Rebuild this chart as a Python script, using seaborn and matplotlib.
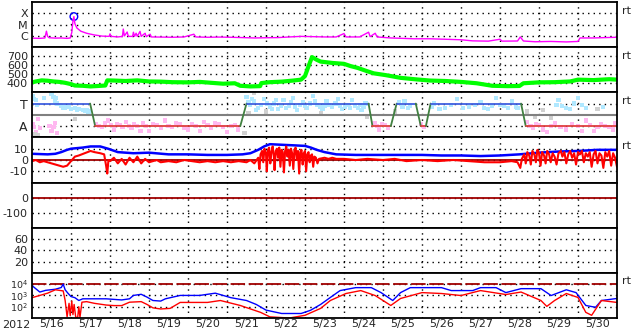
import numpy as np
import pandas as pd
import matplotlib
matplotlib.use("Agg")
import matplotlib.pyplot as plt
from matplotlib.ticker import NullLocator
import seaborn as sns

# ---------------- data (time in days since 2012-05-16 00:00 UT) ----------------
day_labels = ["5/16", "5/17", "5/18", "5/19", "5/20", "5/21", "5/22", "5/23",
              "5/24", "5/25", "5/26", "5/27", "5/28", "5/29", "5/30"]
year_label = "2012"

# GOES X-ray flux (W/m^2)
xray = [(0.00, 6.3e-7), (0.20, 6.0e-7), (0.33, 6.5e-7), (0.37, 2.6e-6), (0.40, 9e-7),
        (0.44, 6.8e-7), (0.60, 6.3e-7), (0.75, 6.5e-7), (0.90, 6.0e-7), (0.98, 6.5e-7),
        (1.02, 2e-6), (1.05, 2e-5), (1.074, 5.1e-5), (1.10, 1.2e-5), (1.15, 5e-6),
        (1.25, 2.6e-6), (1.40, 1.7e-6), (1.60, 1.2e-6), (1.80, 9.5e-7), (1.98, 9e-7),
        (2.00, 1.5e-6), (2.03, 9e-7), (2.20, 8e-7), (2.32, 9e-7), (2.34, 4e-6),
        (2.37, 1e-6), (2.44, 2.2e-6), (2.47, 9e-7), (2.58, 9e-7), (2.60, 2.1e-6),
        (2.63, 9e-7), (2.67, 1.7e-6), (2.70, 9e-7), (2.77, 2.5e-6), (2.80, 9e-7),
        (2.90, 1.7e-6), (2.93, 8.5e-7), (3.03, 1.4e-6), (3.06, 8e-7), (3.30, 7.8e-7),
        (3.60, 7.5e-7), (3.90, 8e-7), (4.15, 1.4e-6), (4.20, 8e-7), (4.50, 7.5e-7),
        (4.80, 7.8e-7), (5.10, 7.5e-7), (5.40, 7e-7), (5.70, 6.5e-7), (6.00, 6.8e-7),
        (6.30, 7e-7), (6.60, 8e-7), (6.90, 9e-7), (7.20, 8.5e-7), (7.50, 8e-7),
        (7.80, 8e-7), (8.00, 1.6e-6), (8.05, 8e-7), (8.40, 8e-7), (8.63, 2.1e-6),
        (8.67, 8.5e-7), (8.80, 1.7e-6), (8.85, 8e-7), (9.20, 6.5e-7), (9.50, 6e-7),
        (9.80, 5.5e-7), (10.20, 5.5e-7), (10.60, 5e-7), (11.00, 4.5e-7), (11.30, 3.6e-7),
        (11.70, 3.4e-7), (12.00, 5e-7), (12.05, 3.4e-7), (12.45, 3.5e-7), (12.52, 8e-7),
        (12.60, 3.5e-7), (12.90, 3.0e-7), (13.30, 3.2e-7), (13.70, 2.9e-7), (14.00, 3.2e-7),
        (14.05, 6.5e-7), (14.40, 6.5e-7), (14.70, 7e-7), (15.00, 7.5e-7)]
flare_peak = [(1.074, 5.1e-5)]

# solar wind speed (km/s)
wind = [(0.0, 410), (0.1, 420), (0.25, 432), (0.4, 428), (0.55, 420), (0.7, 415),
        (0.85, 405), (1.0, 390), (1.1, 375), (1.3, 372), (1.5, 365), (1.7, 370),
        (1.88, 375), (1.93, 432), (2.1, 430), (2.4, 425), (2.7, 432), (3.0, 420),
        (3.3, 418), (3.6, 412), (4.0, 410), (4.3, 415), (4.6, 405), (4.9, 395),
        (5.2, 400), (5.34, 372), (5.6, 365), (5.85, 368), (5.88, 402), (6.1, 412),
        (6.4, 418), (6.7, 430), (6.9, 440), (7.0, 480), (7.1, 600), (7.18, 690),
        (7.3, 660), (7.4, 640), (7.7, 625), (8.0, 615), (8.17, 590), (8.35, 570),
        (8.55, 540), (8.76, 510), (9.07, 490), (9.45, 460), (9.8, 445), (10.2, 430),
        (10.6, 425), (11.0, 415), (11.4, 400), (11.8, 372), (12.2, 368), (12.5, 370),
        (12.6, 400), (13.0, 410), (13.4, 412), (13.8, 420), (14.0, 440), (14.4, 435),
        (14.8, 445), (15.0, 440)]

# IMF sector: 3 = T (toward), 1 = A (away)
sector = [(0.0, 3), (1.49, 3), (1.62, 1), (5.34, 1), (5.50, 3), (8.63, 3), (8.73, 1),
          (9.20, 1), (9.35, 3), (9.84, 3), (9.97, 1), (10.10, 1), (10.22, 3),
          (12.54, 3), (12.66, 1), (15.0, 1)]
sector_mid = 2
phi_toward = [(0.03, 3.7), (0.06, 3.4), (0.10, 3.3), (0.12, 2.9), (0.30, 3.5), (0.50, 3.85),
              (0.55, 3.6), (0.58, 3.2), (0.62, 3.5), (0.65, 3.0), (0.75, 2.8), (0.80, 2.6),
              (0.85, 2.65), (0.95, 2.7), (1.00, 2.55), (1.10, 2.6), (1.15, 2.45),
              (1.20, 2.5), (1.30, 2.45), (1.35, 2.35), (1.40, 2.4), (1.45, 2.3),
              (5.50, 3.6), (5.55, 3.1), (5.60, 2.9), (5.65, 3.4), (5.70, 3.2), (5.75, 2.4),
              (5.80, 2.6), (5.88, 2.9), (5.95, 3.4), (6.02, 3.0), (6.10, 2.7), (6.15, 2.5),
              (6.20, 3.0), (6.25, 3.3), (6.30, 2.5), (6.38, 2.8), (6.45, 3.3), (6.52, 2.6),
              (6.60, 2.8), (6.65, 3.1), (6.70, 3.5), (6.75, 2.7), (6.80, 2.4), (6.88, 2.9),
              (6.95, 3.1), (7.00, 2.8), (7.05, 2.6), (7.12, 3.0), (7.20, 3.7), (7.25, 3.2),
              (7.30, 2.9), (7.38, 2.7), (7.45, 2.5), (7.50, 2.8), (7.55, 3.2), (7.62, 2.9),
              (7.70, 2.7), (7.78, 3.0), (7.85, 3.4), (7.90, 2.8), (7.95, 2.5), (8.02, 2.7),
              (8.10, 2.9), (8.15, 2.6), (8.20, 3.3), (8.28, 2.8), (8.35, 2.6), (8.40, 2.9),
              (8.45, 2.4), (8.50, 2.7), (8.55, 3.0), (9.40, 3.1), (9.50, 2.7), (9.55, 3.2),
              (9.65, 2.6), (9.70, 2.8), (10.25, 2.7), (10.30, 3.0), (10.45, 2.5),
              (10.60, 2.6), (10.75, 2.9), (10.90, 3.4), (11.05, 2.6), (11.20, 2.7),
              (11.35, 2.9), (11.50, 3.1), (11.60, 2.6), (11.70, 2.5), (11.80, 2.8),
              (11.90, 3.5), (12.00, 2.9), (12.10, 2.8), (12.20, 2.6), (12.30, 3.2),
              (12.40, 2.7), (12.45, 2.6), (13.45, 2.9), (13.50, 3.3), (13.60, 2.8),
              (13.70, 2.6), (13.80, 2.5), (13.90, 3.0), (14.00, 3.5), (14.10, 2.9),
              (14.20, 2.6), (14.65, 2.7)]
phi_away = [(0.03, 1.2), (0.06, 0.9), (0.10, 0.5), (0.15, 1.6), (0.20, 0.8), (0.45, 1.0),
            (0.50, 0.6), (0.55, 0.9), (0.60, 1.3), (0.65, 0.4), (1.65, 1.2), (1.72, 1.0),
            (1.80, 0.9), (1.88, 1.3), (1.95, 1.5), (2.02, 1.1), (2.10, 0.7), (2.18, 1.2),
            (2.25, 1.1), (2.32, 0.9), (2.40, 1.4), (2.48, 1.0), (2.55, 0.8), (2.62, 1.2),
            (2.70, 1.0), (2.78, 0.6), (2.85, 1.3), (2.92, 1.0), (3.00, 0.6), (3.10, 1.2),
            (3.20, 1.1), (3.30, 0.8), (3.40, 1.5), (3.50, 1.0), (3.60, 0.9), (3.70, 1.3),
            (3.80, 1.2), (3.90, 0.8), (4.00, 0.7), (4.10, 1.2), (4.20, 1.0), (4.30, 0.6),
            (4.40, 1.4), (4.50, 1.1), (4.60, 0.8), (4.70, 1.3), (4.80, 1.2), (4.90, 0.9),
            (5.00, 0.5), (5.10, 1.0), (5.20, 1.1), (5.28, 0.7), (8.78, 1.3), (8.85, 1.0),
            (8.90, 0.7), (8.98, 1.2), (9.05, 1.1), (9.12, 0.8), (9.98, 1.2), (10.05, 0.9),
            (12.70, 1.4), (12.78, 1.0), (12.85, 0.8), (12.92, 1.2), (13.00, 1.1),
            (13.10, 0.7), (13.20, 0.5), (13.30, 1.0), (13.40, 1.3), (13.55, 0.9),
            (13.70, 0.7), (13.85, 1.2), (14.00, 1.0), (14.10, 0.6), (14.20, 1.5),
            (14.30, 1.1), (14.40, 0.6), (14.50, 0.9), (14.60, 1.2), (14.70, 1.0),
            (14.80, 0.9), (14.90, 0.7), (14.95, 1.3)]
phi_other = [(0.08, 0.3), (0.15, 0.2), (1.10, 1.6), (5.45, 0.4), (5.55, 2.2), (5.70, 3.9),
             (6.00, 2.3), (7.40, 2.2), (8.60, 1.8), (9.30, 2.3), (12.70, 2.3), (12.90, 1.8),
             (13.10, 2.4), (13.30, 1.7), (14.50, 2.5)]

# IMF |B| and Bz (nT)
bt = [(0.0, 5.5), (0.4, 5.0), (0.6, 5.5), (0.75, 7.0), (0.9, 9.0), (1.0, 10.0), (1.3, 11.0),
      (1.5, 12.0), (1.75, 12.0), (1.95, 10.0), (2.2, 7.0), (2.6, 6.0), (3.0, 6.5),
      (3.5, 5.0), (4.0, 5.0), (4.5, 4.5), (5.0, 4.5), (5.4, 5.0), (5.6, 6.0), (5.8, 9.0),
      (5.95, 12.0), (6.1, 14.0), (6.4, 13.5), (6.7, 13.0), (7.0, 12.5), (7.15, 11.0),
      (7.3, 9.0), (7.5, 7.0), (7.8, 5.0), (8.3, 4.5), (9.0, 4.5), (9.5, 4.5), (10.0, 4.5),
      (10.5, 4.0), (11.0, 4.0), (11.5, 3.5), (12.0, 4.0), (12.5, 5.0), (13.0, 6.5),
      (13.5, 7.5), (14.0, 8.0), (14.5, 9.0), (15.0, 9.0)]
bz = [(0.0, -1), (0.1, 0), (0.2, -2), (0.3, -1), (0.4, -2), (0.5, -3), (0.6, -4), (0.7, -5),
      (0.8, -6), (0.9, -5), (0.95, -3), (1.1, 3), (1.2, 4), (1.35, 6), (1.5, 8), (1.6, 7),
      (1.75, 6), (1.85, 5), (1.9, -5), (1.93, -12), (1.96, 0), (2.0, -1), (2.1, 2),
      (2.2, -3), (2.3, 1), (2.4, -4), (2.5, 2), (2.6, -2), (2.7, 3), (2.8, -3), (2.9, 1),
      (3.0, -2), (3.1, -1), (3.2, 0), (3.3, -2), (3.5, -1), (3.7, -2), (3.9, 0), (4.1, -1),
      (4.3, -2), (4.5, -1), (4.7, -2), (4.9, -1), (5.1, -2), (5.3, -1), (5.5, -2), (5.6, 0),
      (5.7, -3), (5.80, 2), (5.83, -8), (5.86, 5), (5.90, 8), (5.93, -2), (5.96, 10),
      (6.00, 6), (6.02, -10), (6.05, 9), (6.08, 11), (6.11, -3), (6.14, 7), (6.17, 12),
      (6.20, 4), (6.22, -9), (6.25, 8), (6.28, 10), (6.31, 2), (6.34, 11), (6.37, -6),
      (6.40, 9), (6.43, 7), (6.46, -11), (6.49, 8), (6.52, 12), (6.55, 3), (6.58, 9),
      (6.61, -5), (6.64, 10), (6.67, 6), (6.70, -8), (6.73, 9), (6.76, 11), (6.79, 0),
      (6.82, 8), (6.85, -12), (6.88, 7), (6.91, 9), (6.94, -4), (6.97, 6), (7.00, 8),
      (7.03, -10), (7.06, 5), (7.09, 7), (7.12, -2), (7.15, 4), (7.18, 5), (7.21, -6),
      (7.24, 3), (7.28, 2), (7.32, -3), (7.36, 1), (7.5, 2), (7.6, 1), (7.7, 2), (7.8, 1),
      (8.0, 1), (8.3, 0), (8.6, 1), (9.0, 0), (9.3, 1), (9.6, -1), (10.0, 0),
      (10.4, -1), (10.8, 0), (11.2, -1), (11.6, -2), (12.0, -2), (12.3, -1), (12.45, -2),
      (12.52, -7), (12.56, 1), (12.62, 5), (12.66, -3), (12.70, 7), (12.75, 4), (12.79, -4),
      (12.83, 8), (12.88, 5), (12.92, -2), (12.96, 9), (13.00, 6), (13.04, -5), (13.08, 7),
      (13.13, 4), (13.17, -3), (13.21, 8), (13.26, 5), (13.30, -2), (13.35, 6), (13.40, 3),
      (13.45, -4), (13.50, 6), (13.56, 8), (13.60, 3), (13.65, 7), (13.70, -3), (13.75, 5),
      (13.80, 8), (13.85, 2), (13.90, 6), (13.95, -4), (14.00, 7), (14.05, 5), (14.10, 8),
      (14.15, -2), (14.20, 6), (14.25, 3), (14.30, 7), (14.35, -6), (14.40, 5), (14.45, 8),
      (14.50, -3), (14.55, 6), (14.60, 4), (14.65, -7), (14.70, 7), (14.75, 3), (14.80, 8),
      (14.85, -5), (14.90, 6), (14.95, 2), (15.0, -6)]
dst_zero = [0]

# electron flux (log10)
e_low = [(0.0, 3.87), (0.2, 3.3), (0.35, 3.45), (0.6, 3.55), (0.75, 3.7), (0.8, 4.0),
         (0.85, 3.5), (0.92, 3.2), (1.0, 2.9), (1.1, 2.8), (1.2, 2.55), (1.3, 2.7),
         (1.6, 2.7), (1.9, 2.7), (2.1, 2.65), (2.3, 2.6), (2.5, 2.7), (2.6, 3.0), (2.8, 3.1),
         (2.95, 2.85), (3.1, 2.55), (3.3, 2.5), (3.42, 2.7), (3.8, 3.0), (4.3, 3.0),
         (4.7, 3.2), (5.1, 2.8), (5.5, 2.55), (5.75, 2.2), (6.0, 1.7), (6.4, 1.4),
         (6.9, 1.4), (7.14, 1.68), (7.4, 2.2), (7.65, 2.82), (7.9, 3.43), (8.3, 3.69),
         (8.7, 3.69), (8.95, 3.25), (9.25, 2.55), (9.45, 3.25), (9.7, 3.69), (10.5, 3.69),
         (10.75, 3.43), (11.3, 3.43), (11.5, 3.69), (11.9, 3.69), (12.15, 3.25),
         (12.54, 3.6), (13.05, 3.6), (13.31, 2.99), (13.7, 3.5), (13.95, 3.25),
         (14.2, 2.11), (14.45, 1.95), (14.6, 2.55), (15.0, 2.73)]
e_high = [(0.0, 2.8), (0.1, 2.9), (0.4, 3.2), (0.6, 3.5), (0.8, 3.4), (0.85, 2.55),
          (0.9, 1.1), (0.95, 2.3), (0.98, 1.2), (1.02, 2.5), (1.05, 1.3), (1.08, 2.2),
          (1.12, 1.1), (1.17, 1.0), (1.2, 2.0), (1.23, 1.05), (1.28, 2.4), (1.4, 2.45),
          (1.6, 2.3), (1.9, 2.15), (2.1, 2.1), (2.3, 2.1), (2.5, 2.4), (2.8, 2.45),
          (2.95, 2.2), (3.1, 1.9), (3.3, 1.8), (3.54, 1.85), (3.8, 2.38), (4.5, 2.38),
          (4.83, 2.55), (5.34, 2.11), (5.86, 1.5), (6.1, 1.1), (6.6, 1.0), (7.0, 1.24),
          (7.4, 1.85), (7.65, 2.55), (8.05, 3.17), (8.43, 3.43), (8.8, 2.99), (9.2, 2.11),
          (9.45, 2.73), (10.0, 3.25), (10.5, 3.17), (11.0, 2.99), (11.5, 3.43),
          (12.15, 3.08), (12.54, 3.3), (13.05, 2.55), (13.2, 2.03), (13.4, 2.55),
          (13.7, 3.17), (14.0, 2.82), (14.2, 1.5), (14.35, 1.24), (14.6, 2.55), (15.0, 2.38)]
e_alert = [1e4]

# ---------------- figure ----------------
sns.set_style("white")
plt.rcParams['font.family'] = ['DejaVu Sans']
plt.rcParams['mathtext.fontset'] = 'dejavusans'

W, H = 633, 334
fig = plt.figure(figsize=(W / 100, H / 100), dpi=100)
L, R, T0, B0 = 32, 617, 2, 318
n = 7
ph = (B0 - T0) / n
axes = []
for i in range(n):
    top = T0 + i * ph
    ax = fig.add_axes([L / W, 1 - (top + ph) / H, (R - L) / W, ph / H])
    axes.append(ax)

FS = 8
dot = (0, (1, 3))


def frame(ax, yticks, ylabels, fs=FS):
    ax.set_xlim(0, 15)
    ax.set_xticks(np.arange(1, 15))
    ax.set_yticks(yticks)
    ax.set_yticklabels(ylabels, fontsize=fs)
    ax.yaxis.set_minor_locator(NullLocator())
    ax.grid(True, which='major', color='black', linestyle=dot, linewidth=1.0)
    ax.tick_params(axis='both', which='both', length=0, pad=3)
    ax.tick_params(axis='x', labelbottom=False)
    for s in ax.spines.values():
        s.set_color('black')
        s.set_linewidth(1.3)
    ax.set_xlabel('')
    ax.set_ylabel('')
    ax.set_facecolor('white')


def df(pairs, cols=("t", "v")):
    return pd.DataFrame(pairs, columns=list(cols))


# panel 1: X-ray
ax = axes[0]
ax.set_yscale('log')
ax.set_ylim(1e-7, 1e-3)
sns.lineplot(data=df(xray), x="t", y="v", ax=ax, color='#ff00ff', linewidth=1.0,
             sort=False, estimator=None)
sns.scatterplot(data=df(flare_peak), x="t", y="v", ax=ax, marker='o', s=30,
                facecolors='none', edgecolor='#0000ff', linewidth=1.0)
frame(ax, [1e-6, 1e-5, 1e-4], ['C', 'M', 'X'], fs=8)

# panel 2: solar wind speed
ax = axes[1]
ax.set_ylim(300, 800)
sns.lineplot(data=df(wind), x="t", y="v", ax=ax, color='#00ff00', linewidth=3.0,
             sort=False, estimator=None)
frame(ax, [400, 500, 600, 700], ['400', '500', '600', '700'])

# panel 3: sector
ax = axes[2]
ax.set_ylim(0, 4)
for pts, c in ((phi_toward, '#b0e8ff'), (phi_away, '#ffb8f0'), (phi_other, '#d0d0d0')):
    sns.scatterplot(data=df(pts), x="t", y="v", ax=ax, marker='s', s=9, color=c,
                    edgecolor='none', linewidth=0)
ax.axhline(sector_mid, color='#808080', linewidth=1.5)
for (t1, l1), (t2, l2) in zip(sector[:-1], sector[1:]):
    if l1 == l2:
        c = '#4060e0' if l1 == 3 else '#e04040'
    else:
        c = '#408040'
    sns.lineplot(x=[t1, t2], y=[l1, l2], ax=ax, color=c, linewidth=1.3, sort=False,
                 estimator=None)
frame(ax, [1, 3], ['A', 'T'], fs=9)

# panel 4: IMF
ax = axes[3]
ax.set_ylim(-20, 20)
ax.axhline(dst_zero[0], color='#a00000', linewidth=1.3)
sns.lineplot(data=df(bt), x="t", y="v", ax=ax, color='#0000ff', linewidth=1.8,
             sort=False, estimator=None)
sns.lineplot(data=df(bz), x="t", y="v", ax=ax, color='#ff0000', linewidth=1.5,
             sort=False, estimator=None)
frame(ax, [-10, 0, 10], ['-10', '0', '10'])

# panel 5: Dst
ax = axes[4]
ax.set_ylim(-200, 100)
ax.axhline(dst_zero[0], color='#a00000', linewidth=1.3)
frame(ax, [-100, 0], ['-100', '0'])

# panel 6: empty 0-80
ax = axes[5]
ax.set_ylim(0, 80)
frame(ax, [20, 40, 60], ['20', '40', '60'])

# panel 7: electron flux
ax = axes[6]
ax.set_yscale('log')
ax.set_ylim(10, 1e5)
ax.axhline(e_alert[0], color='#a00000', linewidth=1.3, dashes=(8, 2))
el = df(e_low)
el["v"] = 10 ** el["v"]
eh = df(e_high)
eh["v"] = 10 ** eh["v"]
sns.lineplot(data=el, x="t", y="v", ax=ax, color='#0000ff', linewidth=1.0, sort=False,
             estimator=None)
sns.lineplot(data=eh, x="t", y="v", ax=ax, color='#ff0000', linewidth=1.0, sort=False,
             estimator=None)
frame(ax, [1e2, 1e3, 1e4], [r'$10^2$', r'$10^3$', r'$10^4$'], fs=6.8)
ax.set_xticks(np.arange(0.5, 15), minor=True)
ax.set_xticklabels(day_labels, minor=True, fontsize=FS)
ax.tick_params(axis='x', which='minor', labelbottom=True, length=0, pad=1)

fig.text(16 / W, 1 - 325 / H, year_label, fontsize=FS, ha='center', va='center')
for i in (0, 1, 2, 3, 6):
    axes[i].text(1.008, 0.92, 'rt', transform=axes[i].transAxes, fontsize=8,
                 ha='left', va='top')

fig.savefig("out.png", dpi=100)
